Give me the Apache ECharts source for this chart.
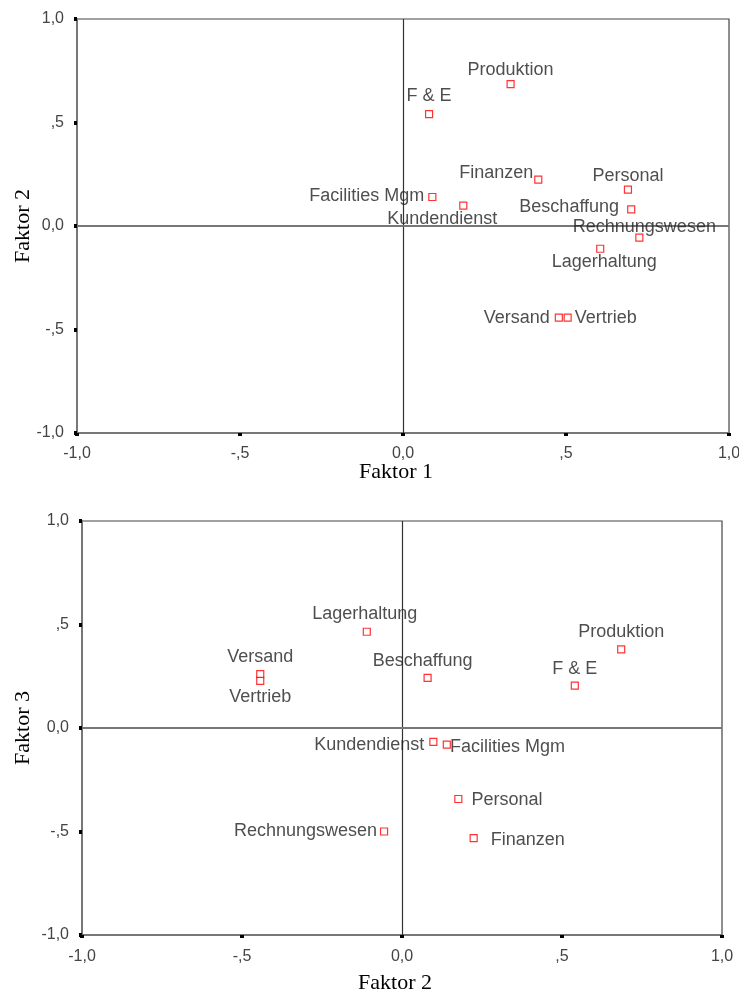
<!DOCTYPE html>
<html>
<head>
<meta charset="utf-8">
<script src="https://cdn.jsdelivr.net/npm/echarts@6/dist/echarts.min.js"></script>
<style>
html,body{margin:0;padding:0;background:#fff;}
#c{width:739px;height:994px;}
</style>
</head>
<body>
<div id="c"></div>
<script>
// ---- data ----
const names = ["Produktion","F & E","Finanzen","Facilities Mgm","Kundendienst","Personal","Beschaffung","Rechnungswesen","Lagerhaltung","Versand","Vertrieb"];
const faktor1 = [0.33, 0.08, 0.415, 0.09, 0.185, 0.69, 0.70, 0.725, 0.605, 0.478, 0.505];
const faktor2 = [0.685, 0.54, 0.224, 0.14, 0.098, 0.176, 0.08, -0.056, -0.11, -0.443, -0.443];
const faktor3 = [0.38, 0.205, -0.532, -0.08, -0.067, -0.343, 0.242, -0.50, 0.465, 0.26, 0.228];
const tickValues = [-1, -0.5, 0, 0.5, 1];
const tickLabels = ["-1,0", "-,5", "0,0", ",5", "1,0"];

// ---- label placement (style) ----
const labelTop = {
  "Produktion": {position:"top", offset:[0,3]},
  "F & E": {position:"top", offset:[0,-1]},
  "Finanzen": {position:"left", offset:[3,-7]},
  "Facilities Mgm": {position:"left", offset:[0,-1]},
  "Kundendienst": {position:"bottom", offset:[-21,-4]},
  "Personal": {position:"top", offset:[0,4]},
  "Beschaffung": {position:"left", offset:[-4,-2]},
  "Rechnungswesen": {position:"top", offset:[5,7]},
  "Lagerhaltung": {position:"bottom", offset:[4,-4]},
  "Versand": {position:"left", offset:[-1,0]},
  "Vertrieb": {position:"right", offset:[-1,0]}
};
const labelBottom = {
  "Produktion": {position:"top", offset:[0,0]},
  "F & E": {position:"top", offset:[0,1]},
  "Finanzen": {position:"right", offset:[9,2]},
  "Facilities Mgm": {position:"right", offset:[-5,2]},
  "Kundendienst": {position:"left", offset:[-1,3]},
  "Personal": {position:"right", offset:[5,1]},
  "Beschaffung": {position:"top", offset:[-5,0]},
  "Rechnungswesen": {position:"left", offset:[1,0]},
  "Lagerhaltung": {position:"top", offset:[-2,-1]},
  "Versand": {position:"top", offset:[0,0]},
  "Vertrieb": {position:"bottom", offset:[0,-1]}
};

function fmt(v){
  const i = tickValues.findIndex(t => Math.abs(t - v) < 1e-9);
  return i >= 0 ? tickLabels[i] : "";
}

function makeData(xs, ys, placement){
  return names.map((n,i)=>({
    name:n,
    value:[xs[i], ys[i]],
    label:Object.assign({show:true, formatter:n}, placement[n])
  }));
}

const labelFont = {fontFamily:"Liberation Sans, Arial, sans-serif", fontSize:18, color:"#222"};
const tickFont = {fontFamily:"Liberation Sans, Arial, sans-serif", fontSize:16, color:"#444"};
const titleFont = {fontFamily:"Liberation Serif, Times New Roman, serif", fontSize:22, color:"#000"};

function xAxis(idx, name, gap, margin){
  return {
    gridIndex:idx, type:"value", min:-1, max:1, interval:0.5,
    name:name, nameLocation:"middle", nameGap:gap, nameMoveOverlap:false,
    nameTextStyle:Object.assign({padding:[0,14,0,0]}, titleFont),
    axisLine:{show:true, onZero:false, lineStyle:{color:"#777", width:2}},
    axisTick:{show:true, inside:false, length:3, lineStyle:{color:"#000", width:4}},
    axisLabel:Object.assign({formatter:fmt, margin:margin}, tickFont),
    splitLine:{show:false}
  };
}
function yAxis(idx, name, gap){
  return {
    gridIndex:idx, type:"value", min:-1, max:1, interval:0.5,
    name:name, nameLocation:"middle", nameGap:gap, nameMoveOverlap:false,
    nameTextStyle:titleFont,
    axisLine:{show:true, onZero:false, lineStyle:{color:"#777", width:2}},
    axisTick:{show:true, inside:false, length:3, lineStyle:{color:"#000", width:4}},
    axisLabel:Object.assign({formatter:fmt, margin:13}, tickFont),
    splitLine:{show:false}
  };
}

function series(idx, xs, ys, placement){
  return {
    type:"scatter", xAxisIndex:idx, yAxisIndex:idx,
    symbol:"rect", symbolSize:7,
    itemStyle:{color:"#fff", borderColor:"#f00", borderWidth:1.2},
    label:Object.assign({show:true, distance:4}, labelFont),
    data:makeData(xs, ys, placement),
    markLine:{
      silent:true, symbol:"none", animation:false,
      label:{show:false},
      data:[
        {xAxis:0, lineStyle:{color:"#333", width:1.2, type:"solid"}},
        {yAxis:0, lineStyle:{color:"#777", width:2, type:"solid"}}
      ]
    },
    z:5
  };
}

const chart = echarts.init(document.getElementById("c"), null, {renderer:"canvas"});
chart.setOption({
  animation:false,
  backgroundColor:"#fff",
  grid:[
    {left:77, right:10, top:19, height:414, show:true, borderColor:"#444", borderWidth:1.2, backgroundColor:"transparent", containLabel:false, outerBoundsMode:"none"},
    {left:82, right:17, top:521, height:414, show:true, borderColor:"#444", borderWidth:1.2, backgroundColor:"transparent", containLabel:false, outerBoundsMode:"none"}
  ],
  xAxis:[xAxis(0,"Faktor 1",28,13), xAxis(1,"Faktor 2",37,14)],
  yAxis:[yAxis(0,"Faktor 2",43), yAxis(1,"Faktor 3",48)],
  series:[
    series(0, faktor1, faktor2, labelTop),
    series(1, faktor2, faktor3, labelBottom)
  ]
});
</script>
</body>
</html>
